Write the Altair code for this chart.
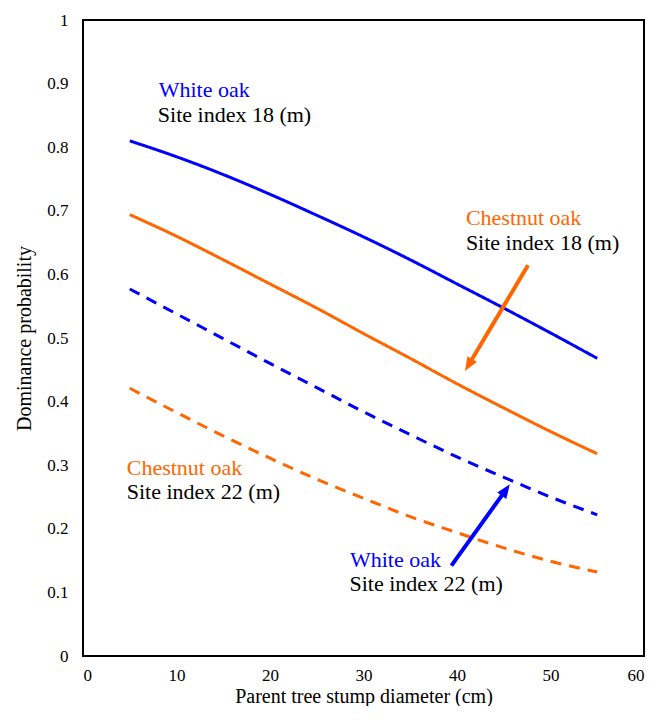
import altair as alt
import pandas as pd

# Data
diameter = [5, 10, 15, 20, 25, 30, 35, 40, 45, 50, 55]
white_oak_18 = [0.810, 0.785, 0.757, 0.726, 0.693, 0.659, 0.623, 0.585, 0.547, 0.508, 0.468]
chestnut_oak_18 = [0.694, 0.660, 0.623, 0.585, 0.547, 0.507, 0.468, 0.428, 0.390, 0.353, 0.318]
white_oak_22 = [0.577, 0.538, 0.499, 0.460, 0.422, 0.384, 0.348, 0.313, 0.281, 0.250, 0.222]
chestnut_oak_22 = [0.421, 0.383, 0.346, 0.311, 0.278, 0.248, 0.219, 0.194, 0.170, 0.149, 0.132]

series_names = ["WO18", "CO18", "WO22", "CO22"]
series_values = [white_oak_18, chestnut_oak_18, white_oak_22, chestnut_oak_22]
series_colors = ["#0000FF", "#FF6600", "#0000FF", "#FF6600"]
series_dash = [[1, 0], [1, 0], [11, 8], [11, 8]]

x_ticks = [0, 10, 20, 30, 40, 50, 60]
y_ticks = [0, 0.1, 0.2, 0.3, 0.4, 0.5, 0.6, 0.7, 0.8, 0.9, 1]

# annotation texts
ann_text = ["White oak", "Site index 18 (m)", "Chestnut oak", "Site index 18 (m)",
            "Chestnut oak", "Site index 22 (m)", "White oak", "Site index 22 (m)"]
ann_x = [8.1, 8.0, 40.95, 40.95, 4.68, 4.68, 28.55, 28.5]
ann_y = [0.890, 0.851, 0.689, 0.650, 0.2955, 0.258, 0.151, 0.1135]
ann_color = ["#0000FF", "#000000", "#FF6600", "#000000", "#FF6600", "#000000", "#0000FF", "#000000"]

# arrows: tail -> tip (data coords)
arr_x = [47.6, 39.4]
arr_y = [0.6145, 0.142]
arr_tipx = [40.85, 45.65]
arr_tipy = [0.448, 0.270]
arr_angle = [211, 35]
arr_color = ["#FF6600", "#0000FF"]
arr_shaft_frac = [0.91, 0.88]

FONT = "Liberation Serif"

rows = []
for name, vals in zip(series_names, series_values):
    for xv, yv in zip(diameter, vals):
        rows.append({"x": xv, "p": yv, "series": name})
lines_df = pd.DataFrame(rows)

xscale = alt.Scale(domain=[0, 60], nice=False, zero=False)
yscale = alt.Scale(domain=[0, 1], nice=False)

lines = alt.Chart(lines_df).mark_line(strokeWidth=3, strokeCap="butt", interpolate="monotone").encode(
    x=alt.X("x:Q", scale=xscale,
            axis=alt.Axis(values=x_ticks, title="Parent tree stump diameter (cm)",
                          labelPadding=11, titlePadding=3)),
    y=alt.Y("p:Q", scale=yscale,
            axis=alt.Axis(values=y_ticks, format=".1~f", title="Dominance probability",
                          labelPadding=15, titlePadding=12)),
    color=alt.Color("series:N", scale=alt.Scale(domain=series_names, range=series_colors), legend=None),
    strokeDash=alt.StrokeDash("series:N", scale=alt.Scale(domain=series_names, range=series_dash), legend=None),
    detail="series:N",
)

ann_df = pd.DataFrame({"x": ann_x, "y": ann_y, "text": ann_text, "c": ann_color})
texts = alt.Chart(ann_df).mark_text(
    align="left", baseline="middle", font=FONT, fontSize=22
).encode(
    x=alt.X("x:Q", scale=xscale), y=alt.Y("y:Q", scale=yscale),
    text="text:N", color=alt.Color("c:N", scale=None),
)

shaft_x2 = [a + f * (b - a) for a, b, f in zip(arr_x, arr_tipx, arr_shaft_frac)]
shaft_y2 = [a + f * (b - a) for a, b, f in zip(arr_y, arr_tipy, arr_shaft_frac)]
arr_df = pd.DataFrame({"x": arr_x, "y": arr_y, "x2": shaft_x2, "y2": shaft_y2,
                       "tx": arr_tipx, "ty": arr_tipy, "ang": arr_angle, "c": arr_color})
shafts = alt.Chart(arr_df).mark_rule(strokeWidth=4).encode(
    x=alt.X("x:Q", scale=xscale), y=alt.Y("y:Q", scale=yscale),
    x2="x2:Q", y2="y2:Q", color=alt.Color("c:N", scale=None),
)
heads = alt.Chart(arr_df).mark_point(
    shape="M0,0L0.55,1.4L-0.55,1.4Z", filled=True, size=400, opacity=1, strokeWidth=0
).encode(
    x=alt.X("tx:Q", scale=xscale), y=alt.Y("ty:Q", scale=yscale),
    angle=alt.Angle("ang:Q", scale=None), color=alt.Color("c:N", scale=None),
)

chart = alt.layer(lines, shafts, heads, texts).properties(
    width=561, height=636,
    background="white",
    autosize=alt.AutoSizeParams(type="none"),
    padding={"left": 75, "top": 12, "right": 16, "bottom": 50},
).configure_view(
    stroke="#000000", strokeWidth=2
).configure_axis(
    grid=False, domain=False, ticks=False,
    labelFont=FONT, titleFont=FONT, labelFontSize=17, titleFontSize=20,
    titleFontWeight="normal", labelColor="#000000", titleColor="#000000",
)

chart.save("out.html", embed_options={"renderer": "svg", "actions": False})
